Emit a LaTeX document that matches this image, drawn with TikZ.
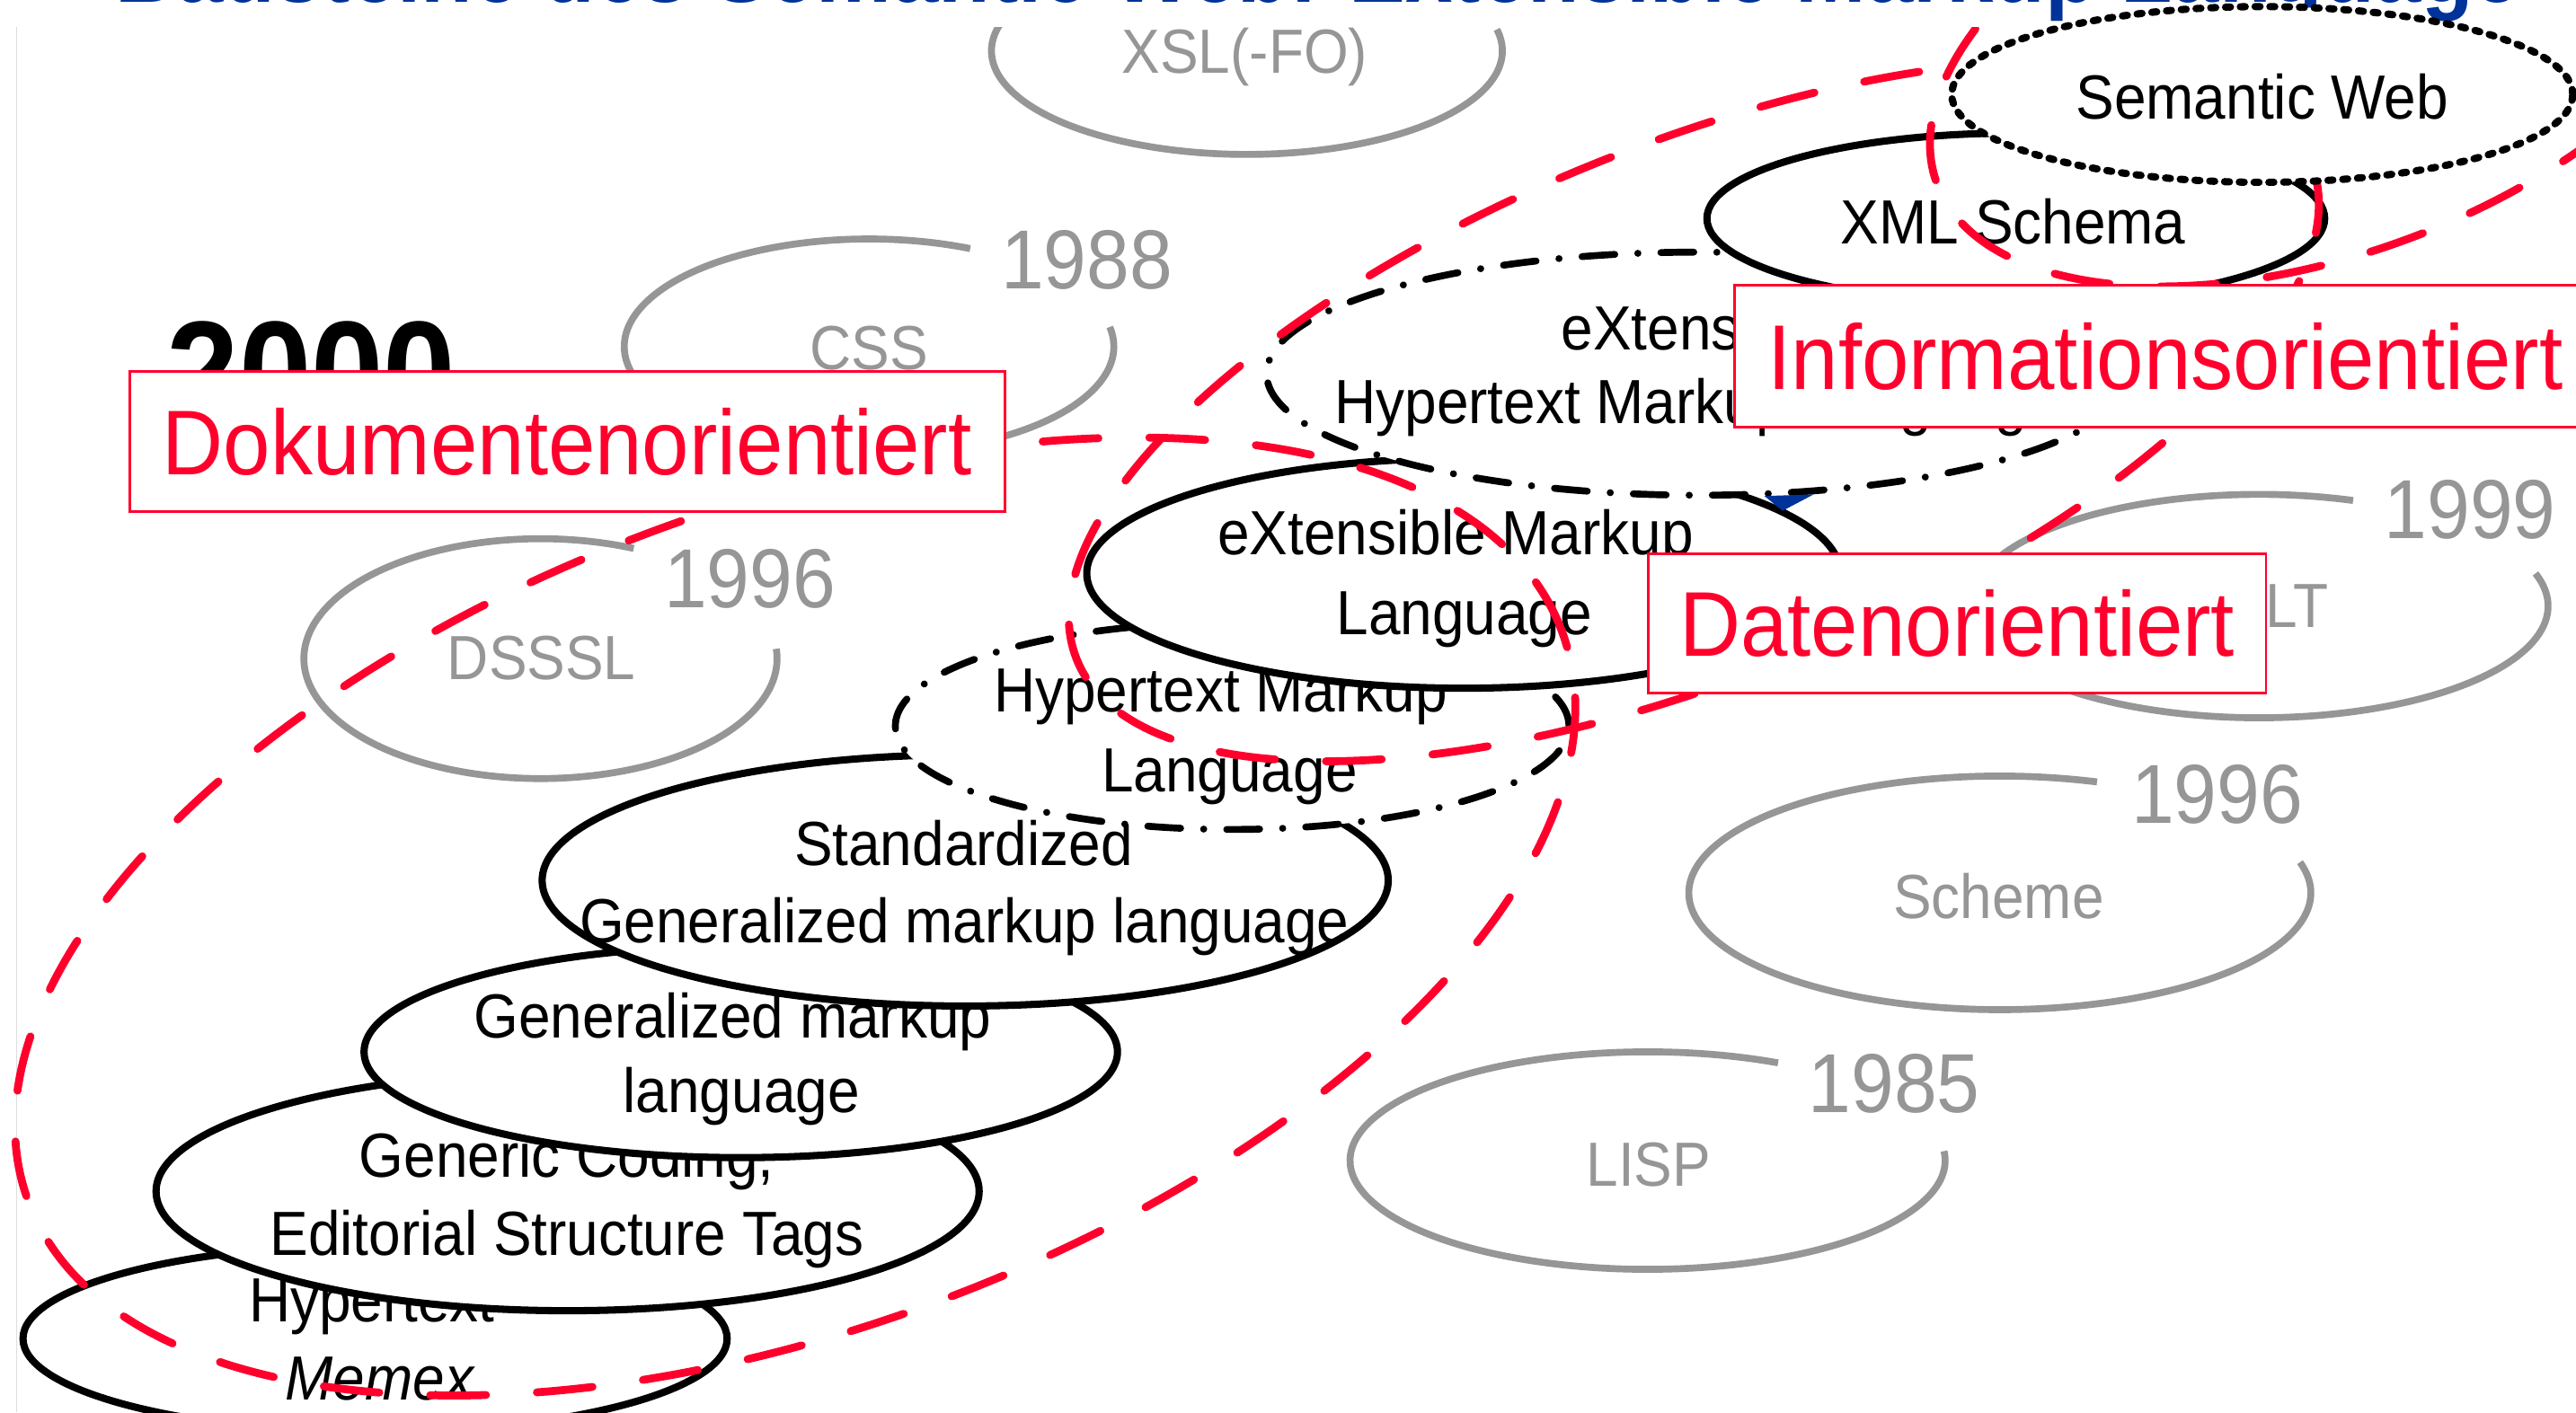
\documentclass[tikz,border=0pt]{standalone}
\usepackage{fontspec}
\setmainfont{Liberation Sans}[FakeStretch=0.92]
\usetikzlibrary{shapes.geometric}
\definecolor{redline}{RGB}{255,0,45}
\definecolor{greyline}{RGB}{150,150,150}
\definecolor{titleblue}{RGB}{0,51,153}
\definecolor{edgegrey}{RGB}{222,222,222}
\tikzset{
  lbl/.style={anchor=base, inner sep=0pt, font=\fontsize{38}{46}\selectfont},
  glbl/.style={lbl, text=greyline},
  yearlbl/.style={anchor=base, inner sep=0pt, text=greyline, font=\fontsize{51}{60}\selectfont},
  greyarc/.style={draw=greyline, line width=4.2pt},
  ell/.style={ellipse, draw=black, fill=white, line width=4.4pt, inner sep=0pt},
  dashdotell/.style={ell, line width=4.2pt, dash pattern=on 20pt off 14pt on 0.1pt off 14pt, line cap=round},
  dottedell/.style={ell, line width=4.4pt, dash pattern=on 3pt off 6pt, line cap=round},
  reddash/.style={draw=redline, line width=4.8pt, dash pattern=on 34pt off 31pt, line cap=round},
  catbox/.style={rectangle, draw=redline, fill=white, line width=1.6pt, inner sep=0pt,
                 text=redline, font=\fontsize{56}{66}\selectfont},
}
\begin{document}
\begin{tikzpicture}[x=1pt,y=-1pt]
\useasboundingbox (0,0) rectangle (1568,860);
\fill[white] (0,0) rectangle (1568,860);
\clip (0,0) rectangle (1568,860);

% slide edge
\draw[edgegrey, line width=0.7pt] (10,0) -- (10,860);

% ---------- grey (style / processing) ellipses ----------
\coordinate (xslc) at (759,31);
\draw[greyarc] (xslc) ++(60:155.5pt and 63pt) arc[start angle=60, end angle=372, x radius=155.5pt, y radius=63pt];
\node[glbl] (xsl) at (757.7,44.5) {XSL(-FO)};

\coordinate (cssc) at (529,211);
\draw[greyarc] (cssc) ++(65.6:149pt and 65.5pt) arc[start angle=65.6, end angle=370.5, x radius=149pt, y radius=65.5pt];
\node[glbl] (css) at (529,225) {CSS};
\node[yearlbl] (y1988) at (661.5,176) {1988};

\coordinate (dssslc) at (329,401);
\draw[greyarc] (dssslc) ++(66.8:144pt and 73pt) arc[start angle=66.8, end angle=364.7, x radius=144pt, y radius=73pt];
\node[glbl] (dsssl) at (329.6,414) {DSSSL};
\node[yearlbl] (y1996a) at (456.5,370) {1996};

\coordinate (xsltc) at (1375,369);
\draw[greyarc] (xsltc) ++(71:176pt and 68pt) arc[start angle=71, end angle=377, x radius=176pt, y radius=68pt];
\node[glbl] (xslt) at (1375,382) {XSLT};
\node[yearlbl] (y1999) at (1503.5,327.6) {1999};

\coordinate (schemec) at (1217.3,543.6);
\draw[greyarc] (schemec) ++(71.8:189.3pt and 71.1pt) arc[start angle=71.8, end angle=375.2, x radius=189.3pt, y radius=71.1pt];
\node[glbl] (scheme) at (1216.5,559) {Scheme};
\node[yearlbl] (y1996b) at (1349.5,501.2) {1996};

\coordinate (lispc) at (1002.9,706.6);
\draw[greyarc] (lispc) ++(64:181.1pt and 66.2pt) arc[start angle=64, end angle=365, x radius=181.1pt, y radius=66.2pt];
\node[glbl] (lisp) at (1003.5,722) {LISP};
\node[yearlbl] (y1985) at (1153,677.6) {1985};

% ---------- year 2000 ----------
\node[anchor=base, inner sep=0pt, font=\bfseries\fontsize{86}{100}\selectfont] (y2000) at (189.5,255.6) {2000};

% ---------- black (markup language) ellipses, stacked ----------
\node[ell, minimum width=428.6pt, minimum height=114pt] (memex) at (228.3,815) {};
\node[lbl] (memex1) at (226.4,805) {Hypertext};
\node[lbl] (memex2) at (231,852.4) {\itshape Memex};

\node[ell, minimum width=501pt, minimum height=145.4pt] (gencod) at (345.5,725.3) {};
\node[lbl] (gencod1) at (345,716.7) {Generic Coding,};
\node[lbl] (gencod2) at (345,764.2) {Editorial Structure Tags};

\node[ell, minimum width=458.6pt, minimum height=128.8pt] (gml) at (450.9,640.4) {};
\node[lbl] (gml1) at (446,631.8) {Generalized markup};
\node[lbl] (gml2) at (451.3,677.6) {language};

\node[ell, minimum width=515pt, minimum height=153pt] (sgml) at (587.5,536) {};
\node[lbl] (sgml1) at (586.5,526.7) {Standardized};
\node[lbl] (sgml2) at (587,574) {Generalized markup language};

\node[dashdotell, minimum width=410pt, minimum height=126pt] (html) at (750,442) {};
\node[lbl] (html1) at (743,433.4) {Hypertext Markup};
\node[lbl] (html2) at (748.4,482) {Language};

\node[ell, minimum width=458.6pt, minimum height=140pt] (xml) at (890.8,349) {};
\node[lbl] (xml1) at (886,337.7) {eXtensible Markup};
\node[lbl] (xml2) at (891.4,386.3) {Language};

\node[dashdotell, minimum width=525.6pt, minimum height=148pt] (xhtml) at (1033.8,227.5) {};
\node[lbl] (xhtml1) at (1032,212.8) {eXtensible};
\node[lbl] (xhtml2) at (1033,258) {Hypertext Markup Language};

\fill[titleblue] (1074,302) -- (1104,301) -- (1085,311) -- cycle;

\node[ell, minimum width=376pt, minimum height=104pt] (schema) at (1227,133) {};
\node[lbl] (schema1) at (1225.5,148.5) {XML Schema};

% ---------- red category outlines ----------
\draw[reddash, rotate around={20.4:(484,558)}] (484,558) ellipse [x radius=498pt, y radius=250pt];
\draw[reddash, rotate around={22:(1031,250)}] (1031,250) ellipse [x radius=405pt, y radius=162pt];
\draw[reddash, rotate around={20:(1418.5,24.3)}] (1418.5,24.3) ellipse [x radius=255pt, y radius=130pt];

% ---------- title band ----------
\fill[white] (-5,-20) rectangle (1580,16.5);
\node[anchor=base west, inner sep=0pt, text=titleblue, font=\bfseries\fontsize{56}{66}\selectfont] (title) at (70,1.5) {Bausteine des Semantic Web: Extensible Markup Language};

% ---------- semantic web ----------
\node[dottedell, minimum width=378pt, minimum height=107pt] (semweb) at (1377,57.5) {};
\node[lbl] (semweb1) at (1377,72.3) {Semantic Web};

% ---------- category boxes ----------
\node[catbox, minimum width=532.5pt, minimum height=85.5pt] (doku) at (345.25,268.95) {Dokumentenorientiert};
\node[catbox, minimum width=524pt, minimum height=86pt] (info) at (1318,216.8) {Informationsorientiert};
\node[catbox, minimum width=376pt, minimum height=84.8pt] (daten) at (1191.3,379.7) {Datenorientiert};
\end{tikzpicture}
\end{document}
